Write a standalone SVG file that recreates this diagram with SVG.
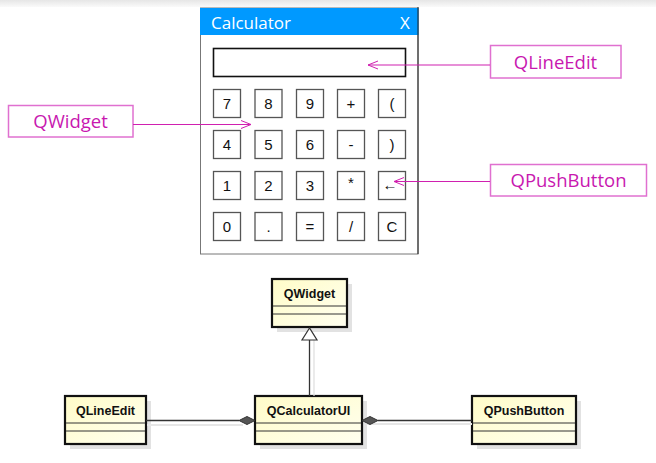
<svg xmlns="http://www.w3.org/2000/svg" width="656" height="463" viewBox="0 0 656 463">
<defs>
<linearGradient id="topstrip" x1="0" y1="0" x2="0" y2="1">
<stop offset="0" stop-color="#e6e6e6"/><stop offset="1" stop-color="#fafafa"/>
</linearGradient>
<linearGradient id="cls" x1="0" y1="0" x2="1" y2="1">
<stop offset="0" stop-color="#fffcc8"/><stop offset="1" stop-color="#fffff0"/>
</linearGradient>
<marker id="open" viewBox="0 0 12 10" refX="11" refY="5" markerWidth="12" markerHeight="10" markerUnits="userSpaceOnUse" orient="auto">
<path d="M1,1 L11,5 L1,9" fill="none" stroke="#d020b0" stroke-width="1"/>
</marker>
</defs>
<style>
.lbl rect{fill:#fff;stroke:#e070d0;stroke-width:1.5}
.lbl text{font-family:"Open Sans","Noto Sans",sans-serif;font-size:18.5px;fill:#c818b0;text-anchor:middle}
.btn rect{fill:#fff;stroke:#555;stroke-width:1.3}
.btn text{font-family:"Liberation Sans",Arial,sans-serif;font-size:15px;fill:#111;text-anchor:middle}
.cls .sh{fill:#e2e2e2}
.cls .bx{fill:url(#cls);stroke:#111;stroke-width:2.2}
.cls line{stroke:#333;stroke-width:1}
.cls text{font-family:"Liberation Sans",Arial,sans-serif;font-size:12.5px;font-weight:bold;fill:#111;text-anchor:middle}
.pk{stroke:#d020b0;stroke-width:1.2;fill:none}
.uml{stroke:#333;stroke-width:1.3;fill:none}
</style>
<rect x="0" y="0" width="656" height="7" fill="url(#topstrip)"/>

<g id="calculator">
<rect x="200.5" y="8" width="217.5" height="246" fill="#fff" stroke="#777" stroke-width="1"/>
<rect x="200" y="8" width="218.5" height="27" fill="#0099ff"/>
<line x1="418" y1="7" x2="418" y2="254" stroke="#222" stroke-width="1"/>
<text x="211" y="28.5" font-family="Open Sans,Noto Sans,sans-serif" font-size="17" fill="#fff">Calculator</text>
<text x="405" y="28.5" font-family="Open Sans,Noto Sans,sans-serif" font-size="17" fill="#fff" text-anchor="middle">X</text>
<rect x="213.5" y="48.5" width="192" height="28" fill="#fff" stroke="#111" stroke-width="1.6"/>
</g>

<g id="buttons">
<g class="btn"><rect x="213.5" y="89.5" width="27" height="28"/><text x="227" y="109">7</text></g>
<g class="btn"><rect x="255" y="89.5" width="27" height="28"/><text x="268.5" y="109">8</text></g>
<g class="btn"><rect x="296.5" y="89.5" width="27" height="28"/><text x="310" y="109">9</text></g>
<g class="btn"><rect x="337.5" y="89.5" width="27" height="28"/><text x="351" y="109">+</text></g>
<g class="btn"><rect x="378.5" y="89.5" width="27" height="28"/><text x="392" y="109">(</text></g>

<g class="btn"><rect x="213.5" y="130.5" width="27" height="28"/><text x="227" y="150">4</text></g>
<g class="btn"><rect x="255" y="130.5" width="27" height="28"/><text x="268.5" y="150">5</text></g>
<g class="btn"><rect x="296.5" y="130.5" width="27" height="28"/><text x="310" y="150">6</text></g>
<g class="btn"><rect x="337.5" y="130.5" width="27" height="28"/><text x="351" y="150">-</text></g>
<g class="btn"><rect x="378.5" y="130.5" width="27" height="28"/><text x="392" y="150">)</text></g>

<g class="btn"><rect x="213.5" y="171.5" width="27" height="28"/><text x="227" y="191">1</text></g>
<g class="btn"><rect x="255" y="171.5" width="27" height="28"/><text x="268.5" y="191">2</text></g>
<g class="btn"><rect x="296.5" y="171.5" width="27" height="28"/><text x="310" y="191">3</text></g>
<g class="btn"><rect x="337.5" y="171.5" width="27" height="28"/><text x="351" y="188" font-size="10" fill="#555">*</text></g>
<g class="btn"><rect x="378.5" y="171.5" width="27" height="28"/><text x="390" y="190" fill="#888" font-size="14">←</text></g>

<g class="btn"><rect x="213.5" y="212.5" width="27" height="28"/><text x="227" y="232">0</text></g>
<g class="btn"><rect x="255" y="212.5" width="27" height="28"/><text x="268.5" y="232">.</text></g>
<g class="btn"><rect x="296.5" y="212.5" width="27" height="28"/><text x="310" y="232">=</text></g>
<g class="btn"><rect x="337.5" y="212.5" width="27" height="28"/><text x="351" y="232">/</text></g>
<g class="btn"><rect x="378.5" y="212.5" width="27" height="28"/><text x="392" y="232">C</text></g>
</g>

<g id="label-qwidget" class="lbl"><rect x="8.5" y="105.5" width="124.5" height="31.5"/><text x="70.5" y="128">QWidget</text></g>
<g id="label-qlineedit" class="lbl"><rect x="490.5" y="45.5" width="130.5" height="32.5"/><text x="555.5" y="68.5">QLineEdit</text></g>
<g id="label-qpushbutton" class="lbl"><rect x="490.5" y="164.5" width="156" height="31.5"/><text x="568.5" y="187">QPushButton</text></g>

<g id="pointers">
<path class="pk" d="M490,65 L368,65" marker-end="url(#open)"/>
<path class="pk" d="M133,124.5 L251,124.5" marker-end="url(#open)"/>
<path class="pk" d="M490,181.5 L394,181.5" marker-end="url(#open)"/>
</g>

<g id="cls-qwidget" class="cls">
<rect class="sh" x="277" y="284" width="75" height="48"/>
<rect class="bx" x="272" y="279" width="75" height="48"/>
<line x1="273" y1="306" x2="346" y2="306"/><line x1="273" y1="314" x2="346" y2="314"/>
<text x="309.5" y="298">QWidget</text>
</g>
<g id="cls-qlineedit" class="cls">
<rect class="sh" x="70" y="401" width="81" height="48"/>
<rect class="bx" x="65" y="396" width="81" height="48"/>
<line x1="66" y1="423" x2="145" y2="423"/><line x1="66" y1="431" x2="145" y2="431"/>
<text x="105.5" y="415">QLineEdit</text>
</g>
<g id="cls-qcalculatorui" class="cls">
<rect class="sh" x="260" y="401" width="107" height="48"/>
<rect class="bx" x="255" y="396" width="107" height="48"/>
<line x1="256" y1="423" x2="361" y2="423"/><line x1="256" y1="431" x2="361" y2="431"/>
<text x="308.5" y="415">QCalculatorUI</text>
</g>
<g id="cls-qpushbutton" class="cls">
<rect class="sh" x="477" y="401" width="104" height="48"/>
<rect class="bx" x="472" y="396" width="104" height="48"/>
<line x1="473" y1="423" x2="575" y2="423"/><line x1="473" y1="431" x2="575" y2="431"/>
<text x="524" y="415">QPushButton</text>
</g>

<g id="relations">
<line x1="314" y1="340" x2="314" y2="396" stroke="#ddd" stroke-width="1.2"/>
<line x1="147" y1="425" x2="243" y2="425" stroke="#e6e6e6" stroke-width="2"/>
<line x1="366" y1="424" x2="472" y2="424" stroke="#e6e6e6" stroke-width="2"/>
<line class="uml" x1="309.5" y1="340" x2="309.5" y2="396"/>
<path d="M309.5,328 L302,340 L317,340 Z" fill="#fff" stroke="#333" stroke-width="1.2"/>
<line class="uml" x1="146" y1="420.5" x2="239" y2="420.5"/>
<path d="M239,420.5 L247,416.5 L255,420.5 L247,424.5 Z" fill="#555" stroke="#333" stroke-width="1"/>
<line class="uml" x1="378" y1="420.5" x2="472" y2="420.5"/>
<path d="M362,420.5 L370,416.5 L378,420.5 L370,424.5 Z" fill="#555" stroke="#333" stroke-width="1"/>
</g>
</svg>
